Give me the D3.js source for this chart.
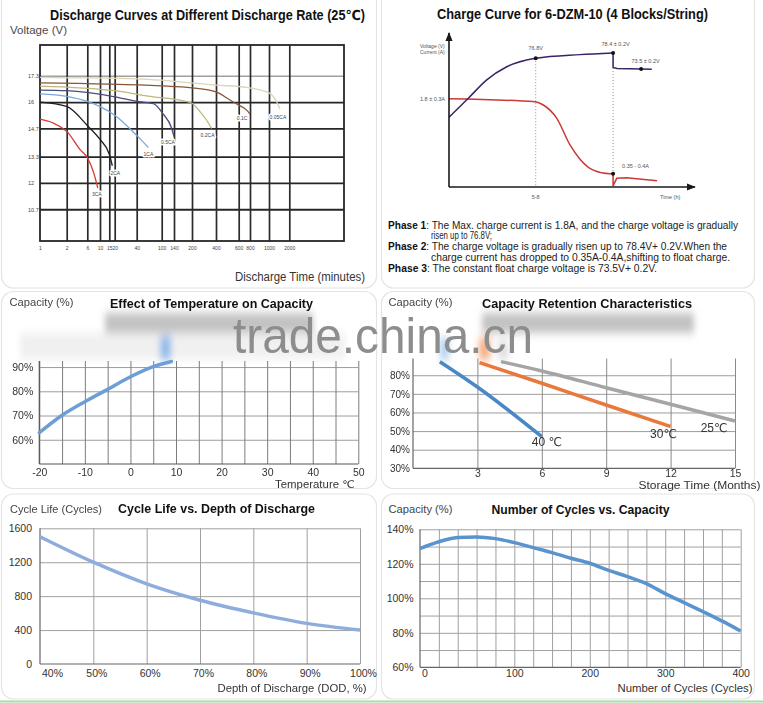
<!DOCTYPE html>
<html><head><meta charset="utf-8">
<script src="https://cdn.jsdelivr.net/npm/d3@7/dist/d3.min.js"></script>
<style>html,body{margin:0;padding:0;background:#fff}svg{display:block}</style>
</head><body><svg id="chart" width="763" height="703"></svg>
<script>
// ================= DATA =================
// Panel 1 – Discharge curves (time: minutes, voltage: V)
const dischargeTimeTicks = [1,2,6,10,15,20,40,100,140,200,400,600,800,1000,2000];
const dischargeVoltTicks = [10.7,12,13.3,14.7,16,17.3];
const curve3CA   = [[1,15.15],[2,14.55],[4.6,13.65],[6,13.25],[8.4,12.3],[9.3,11.75]];
const curve2CA   = [[1,16.0],[2,15.78],[6,14.84],[10,14.15],[15,13.42],[17.8,12.85]];
const curve1CA   = [[1,16.4],[2,16.28],[6,16.03],[10,15.77],[20,15.35],[40,14.35],[68,13.75]];
const curve05CA  = [[1,16.59],[2,16.56],[20,16.26],[40,16.03],[80,15.92],[105,15.4],[132,14.72],[140,14.3]];
const curve02CA  = [[1,16.79],[20,16.56],[80,16.26],[160,16.09],[200,15.94],[267,15.52],[322,15.1],[363,14.69]];
const curve01C   = [[1,16.95],[100,16.8],[200,16.7],[400,16.5],[523,16.1],[600,15.85],[741,15.6],[800,15.4]];
const curve005CA = [[1,17.22],[40,17.15],[100,17.08],[160,17.0],[400,16.84],[741,16.72],[1000,16.45],[1380,16.0],[1540,15.65]];
const rateNames  = ["3CA","2CA","1CA","0.5CA","0.2CA","0.1C","0.05CA"];

// Panel 2 – Charge curve (time: h, voltage: V, current: A)
const chargeVoltMain  = [[0,58.8],[1.45,64.6],[2.83,70.2],[4.33,74.2],[6.5,76.8],[9.8,77.9],[12.3,78.4]];
const chargeVoltFloat = [[12.3,78.4],[12.3,74.0],[12.6,73.7],[14.4,73.5],[15.2,73.4]];
const chargeCurrMain  = [[0,1.8],[6.45,1.74],[7.07,1.68],[8.07,1.43],[9.07,0.92],[9.82,0.65],[10.82,0.44],[12.07,0.37],[12.3,0.37]];
const chargeCurrFloat = [[12.3,0.37],[12.3,0.14],[12.57,0.285],[13.3,0.297],[15.6,0.24]];
const voltMarkers = [[6.5,76.8],[12.3,78.4],[14.4,73.5]];
const currMarkers = [[12.3,0.37]];
const phaseLines = [
  ["Phase 1", ": The Max. charge current is 1.8A, and the charge voltage is gradually"],
  ["", "risen up to 76.8V;"],
  ["Phase 2", ": The charge voltage is gradually risen up to 78.4V+ 0.2V.When the"],
  ["", "charge current has dropped to 0.35A-0.4A,shifting to float charge."],
  ["Phase 3", ": The constant float charge voltage is 73.5V+ 0.2V."]
];

// Panel 3 – Temperature vs capacity
const tempC        = [-20,-15,-10,-5,0,5,9];
const tempCapacity = [62.9,70.1,75.7,80.8,86.0,90.2,92.3];
const tempTicks    = [-20,-10,0,10,20,30,40,50];
const tempCapTicks = [60,70,80,90];

// Panel 4 – Capacity retention (months, %)
const months40 = [1.25,3,6];          const cap40 = [87.3,73.7,47];
const months30 = [3.1,6,9,12];        const cap30 = [86.8,75.7,64,52.5];
const months25 = [4.1,6,9,12,15];     const cap25 = [87.3,82.3,73.3,64.4,55.4];
const retentionLabels = ["40 ℃","30℃","25℃"];
const monthTicks = [3,6,9,12,15];
const retCapTicks = [30,40,50,60,70,80];

// Panel 5 – Cycle life vs DOD
const dodPct    = [40,50,60,70,80,90,100];
const cycleLife = [1500,1200,945,752,603,479,400];
const lifeTicks = [0,400,800,1200,1600];

// Panel 6 – Number of cycles vs capacity
const cycleCount    = [-25,0,25,50,75,100,125,150,175,200,225,250,275,300,325,350,375,400];
const cycleCapacity = [128.8,132.8,135.2,135.6,134.6,132.3,129.4,126.5,123.2,120.3,116.2,112.6,108.5,102.7,97.5,92.3,86.9,81];
const cycleTicks    = [0,100,200,300,400];
const cycCapTicks   = [60,80,100,120,140];

// ================= DRAWING =================
const FONT = '"Liberation Sans", Arial, "DejaVu Sans", sans-serif';
const svg = d3.select('#chart').attr('font-family', FONT);
const defs = svg.append('defs');
defs.append('filter').attr('id','blurV').attr('x','-30%').attr('y','-80%').attr('width','160%').attr('height','260%')
  .append('feGaussianBlur').attr('stdDeviation','3 5');
defs.append('marker').attr('id','arrow').attr('viewBox','0 0 10 8').attr('refX',9).attr('refY',4)
  .attr('markerWidth',9).attr('markerHeight',7.2).attr('markerUnits','userSpaceOnUse').attr('orient','auto')
  .append('path').attr('d','M0,0L10,4L0,8z').attr('fill','#1a1a1a');

function txt(g, x, y, s, o = {}) {
  const t = g.append('text').attr('x', x).attr('y', y).text(s)
    .attr('font-size', o.size || 10.5).attr('fill', o.fill || '#333')
    .attr('text-anchor', o.anchor || 'start').attr('font-weight', o.weight || 'normal');
  if (o.len) t.attr('textLength', o.len).attr('lengthAdjust', 'spacingAndGlyphs');
  if (o.halo) t.attr('stroke', '#fff').attr('stroke-width', o.halo).attr('paint-order', 'stroke').attr('stroke-linejoin', 'round');
  return t;
}
function axis(g, gen, tx, ty, o = {}) {
  const a = g.append('g').attr('transform', `translate(${tx},${ty})`).call(gen);
  a.attr('font-family', FONT).attr('font-size', o.fs || 10.5);
  a.select('.domain').remove();
  a.selectAll('.tick line').attr('stroke', o.stroke || '#9a9a9a').attr('stroke-width', o.sw || 1);
  a.selectAll('.tick text').attr('fill', o.fill || '#333');
  return a;
}
const pairs = (xs, ys) => xs.map((x, i) => [x, ys[i]]);
const plain = d => String(d);
const pct = d => d + '%';

// ---- panel frames ----
const frames = [[1.5,-12,375,300],[381.5,-12,373,300],[1.5,291.5,375,197],[381.5,291.5,373,197],[1.5,494,375,205],[381.5,494,373,205]];
svg.append('g').selectAll('rect').data(frames).join('rect')
  .attr('x', d => d[0]).attr('y', d => d[1]).attr('width', d => d[2]).attr('height', d => d[3])
  .attr('rx', 12).attr('fill', 'none').attr('stroke', '#e4e4e4').attr('stroke-width', 1.2);
svg.append('line').attr('x1',0).attr('x2',763).attr('y1',701.5).attr('y2',701.5).attr('stroke','#a8dca8').attr('stroke-width',2);

// ================= PANEL 1 =================
{
  const g = svg.append('g');
  const P = {l:40, r:344, t:45, b:241};
  const x = d3.scaleLinear().domain(dischargeTimeTicks)
    .range([40,66.7,87.3,100,109.3,114.7,136.7,161.7,174,192,216,238.7,250,269,289.3]);
  const y = d3.scaleLinear().domain([9.13,18.82]).range([P.b, P.t]);

  const hg = axis(g, d3.axisLeft(y).tickValues(dischargeVoltTicks).tickSize(-(P.r-P.l)).tickFormat(''), P.l, 0, {stroke:'#262626', sw:1.8});
  hg.selectAll('.tick line').filter(d => d === 17.3).attr('stroke', '#a0a0a0').attr('stroke-width', 1.4);
  axis(g, d3.axisBottom(x).tickValues(dischargeTimeTicks.slice(1)).tickSize(-(P.b-P.t)).tickFormat(''), 0, P.b, {stroke:'#2b2b2b', sw:1.7});
  g.append('rect').attr('x',P.l).attr('y',P.t).attr('width',P.r-P.l).attr('height',P.b-P.t)
    .attr('fill','none').attr('stroke','#262626').attr('stroke-width',1.8);

  axis(g, d3.axisBottom(x).tickValues(dischargeTimeTicks).tickSize(0).tickPadding(5).tickFormat(plain), 0, P.b, {fs:5, fill:'#444'});
  const yl = axis(g, d3.axisLeft(y).tickValues(dischargeVoltTicks).tickSize(0).tickFormat(plain), P.l, 0, {fs:5.5, fill:'#444'});
  yl.selectAll('.tick text').attr('text-anchor','start').attr('x', -12);

  const series = [curve3CA, curve2CA, curve1CA, curve05CA, curve02CA, curve01C, curve005CA];
  const colors = ['#db3a31','#1e1e1e','#7aa8d8','#4b4c7e','#bdb87c','#8b5636','#dcd5b6'];
  const lblDx = [-1,3,0,-6,-4,-8,-2], lblDy = [7.5,9,8.5,8,8.5,6,9.5];
  const line = d3.line().x(d => x(d[0])).y(d => y(d[1])).curve(d3.curveMonotoneX);
  series.forEach((s, i) => {
    g.append('path').attr('d', line(s)).attr('fill','none').attr('stroke', colors[i]).attr('stroke-width', 1.3);
  });
  series.forEach((s, i) => {
    const e = s[s.length-1];
    txt(g, x(e[0]) + lblDx[i], y(e[1]) + lblDy[i], rateNames[i], {size:5, anchor:'middle', fill:'#444', halo:3});
  });

  txt(g, 50, 20, 'Discharge Curves at Different Discharge Rate (25℃)', {size:14, weight:'bold', fill:'#111', len:315});
  txt(g, 10, 34, 'Voltage (V)', {size:11, fill:'#4a4a4a', len:57});
  txt(g, 365, 281, 'Discharge Time (minutes)', {size:12, fill:'#333', anchor:'end', len:130});
}

// ================= PANEL 2 =================
{
  const g = svg.append('g');
  const P = {l:449, r:695, t:33, b:187};
  const x = d3.scaleLinear().domain([0,18.44]).range([P.l, P.r]);
  const yV = d3.scaleLinear().domain([37.5,84.5]).range([P.b, P.t]);
  const yA = d3.scaleLinear().domain([0.12,3.05]).range([P.b, P.t]);

  g.append('line').attr('x1',x(voltMarkers[0][0])).attr('x2',x(voltMarkers[0][0])).attr('y1',yV(voltMarkers[0][1])).attr('y2',P.b)
    .attr('stroke','#888').attr('stroke-width',0.9).attr('stroke-dasharray','1,2');
  g.append('line').attr('x1',x(voltMarkers[1][0])).attr('x2',x(voltMarkers[1][0])).attr('y1',yV(voltMarkers[1][1])).attr('y2',P.b)
    .attr('stroke','#888').attr('stroke-width',0.9).attr('stroke-dasharray','1,2');

  const lv = d3.line().x(d => x(d[0])).y(d => yV(d[1]));
  const la = d3.line().x(d => x(d[0])).y(d => yA(d[1]));
  g.append('path').attr('d', la.curve(d3.curveMonotoneX)(chargeCurrMain)).attr('fill','none').attr('stroke','#c93a34').attr('stroke-width',1.5);
  g.append('path').attr('d', la.curve(d3.curveLinear)(chargeCurrFloat)).attr('fill','none').attr('stroke','#c93a34').attr('stroke-width',1.5);
  g.append('path').attr('d', lv.curve(d3.curveMonotoneX)(chargeVoltMain)).attr('fill','none').attr('stroke','#3a2366').attr('stroke-width',1.5);
  g.append('path').attr('d', lv.curve(d3.curveLinear)(chargeVoltFloat)).attr('fill','none').attr('stroke','#3a2366').attr('stroke-width',1.5);

  g.selectAll(null).data(voltMarkers).join('circle').attr('cx', d => x(d[0])).attr('cy', d => yV(d[1])).attr('r', 2).attr('fill', '#111');
  g.selectAll(null).data(currMarkers).join('circle').attr('cx', d => x(d[0])).attr('cy', d => yA(d[1])).attr('r', 2).attr('fill', '#111');

  g.append('line').attr('x1',P.l).attr('x2',P.l).attr('y1',P.b).attr('y2',P.t).attr('stroke','#1a1a1a').attr('stroke-width',1.6).attr('marker-end','url(#arrow)');
  g.append('line').attr('x1',P.l).attr('x2',P.r).attr('y1',P.b).attr('y2',P.b).attr('stroke','#1a1a1a').attr('stroke-width',1.6).attr('marker-end','url(#arrow)');

  const s = {size:5.5, fill:'#555'};
  txt(g, 420, 47.5, 'Voltage (V)', {...s, size:5});
  txt(g, 420, 54, 'Current (A)', {...s, size:5});
  txt(g, x(voltMarkers[0][0]), yV(voltMarkers[0][1]) - 8, '76.8V', {...s, anchor:'middle'});
  txt(g, x(voltMarkers[1][0]) + 2.5, yV(voltMarkers[1][1]) - 6.5, '78.4 ± 0.2V', {...s, anchor:'middle'});
  txt(g, x(voltMarkers[2][0]) + 4.5, yV(voltMarkers[2][1]) - 6.5, '73.5 ± 0.2V', {...s, anchor:'middle'});
  txt(g, P.l - 4, yA(chargeCurrMain[0][1]) + 2, '1.8 ± 0.3A', {...s, anchor:'end'});
  txt(g, x(currMarkers[0][0]) + 9, yA(currMarkers[0][1]) - 5.5, '0.35 - 0.4A', s);
  txt(g, x(voltMarkers[0][0]), P.b + 11.5, '5-8', {...s, anchor:'middle'});
  txt(g, 660, P.b + 11.5, 'Time (h)', s);

  txt(g, 437, 19, 'Charge Curve for 6-DZM-10 (4 Blocks/String)', {size:14, weight:'bold', fill:'#111', len:271});

  const baselines = [228.5, 239, 250, 260.5, 271.5];
  const lens = [350, 61, 339, 299, 269];
  phaseLines.forEach((pl, i) => {
    const t = g.append('text').attr('x', pl[0] ? 388 : 431).attr('y', baselines[i]).attr('font-size', 10).attr('fill', '#222')
      .attr('textLength', lens[i]).attr('lengthAdjust', 'spacingAndGlyphs');
    if (pl[0]) t.append('tspan').attr('font-weight','bold').attr('fill','#111').text(pl[0]);
    t.append('tspan').text(pl[1]);
  });
}

// ---- watermark blur bands (behind panels 3/4) ----
{
  const g = svg.append('g').attr('filter','url(#blurV)');
  g.append('rect').attr('x',20).attr('y',333).attr('width',325).attr('height',26).attr('fill','#e6e6e6').attr('opacity',0.6);
  g.append('rect').attr('x',105).attr('y',313).attr('width',208).attr('height',20).attr('fill','#a8a8a8').attr('opacity',0.7);
  g.append('rect').attr('x',482).attr('y',313).attr('width',212).attr('height',20).attr('fill','#a8a8a8').attr('opacity',0.7);
  g.append('rect').attr('x',160).attr('y',336).attr('width',11).attr('height',24).attr('fill','#79aee8').attr('opacity',0.8);
  g.append('rect').attr('x',440).attr('y',338).attr('width',9).attr('height',22).attr('fill','#8fbde9').attr('opacity',0.7);
  g.append('rect').attr('x',479).attr('y',338).attr('width',11).attr('height',22).attr('fill','#f29a62').attr('opacity',0.8);
  g.append('rect').attr('x',498).attr('y',340).attr('width',10).attr('height',20).attr('fill','#c8c8c8').attr('opacity',0.6);
}

// ================= PANEL 3 =================
{
  const g = svg.append('g');
  const P = {l:39.3, r:358.3, t:361, b:464};
  const x = d3.scaleLinear().domain([-20,50]).range([P.l, P.r]);
  const y = d3.scaleLinear().domain([50,92.5]).range([P.b, P.t]);
  axis(g, d3.axisLeft(y).tickValues(tempCapTicks).tickSize(-(P.r-P.l)).tickFormat(''), P.l, 0, {stroke:'#9c9c9c'});
  axis(g, d3.axisBottom(x).tickValues(d3.range(-20,51,5)).tickSize(-(P.b-P.t)).tickFormat(''), 0, P.b, {stroke:'#7c7c7c'});
  g.append('line').attr('x1',P.l).attr('x2',P.l).attr('y1',P.t).attr('y2',P.b).attr('stroke','#555').attr('stroke-width',1.2);
  g.append('line').attr('x1',P.l).attr('x2',P.r).attr('y1',P.b).attr('y2',P.b).attr('stroke','#555').attr('stroke-width',1.2);
  axis(g, d3.axisBottom(x).tickValues(tempTicks).tickSize(0).tickPadding(5).tickFormat(plain), 0, P.b);
  axis(g, d3.axisLeft(y).tickValues(tempCapTicks).tickSize(0).tickPadding(6).tickFormat(pct), P.l, 0);
  g.append('path').attr('d', d3.line().x(d => x(d[0])).y(d => y(d[1])).curve(d3.curveMonotoneX)(pairs(tempC, tempCapacity)))
    .attr('fill','none').attr('stroke','#6d9fd6').attr('stroke-width',3.5).attr('stroke-linecap','round');
  txt(g, 110, 308, 'Effect of Temperature on Capacity', {size:12.5, weight:'bold', fill:'#111', len:203});
  txt(g, 9.5, 306, 'Capacity (%)', {size:10.5, fill:'#444', len:64});
  txt(g, 355, 488, 'Temperature ℃', {size:10.5, fill:'#333', anchor:'end', len:80});
}

// ================= PANEL 4 =================
{
  const g = svg.append('g');
  const P = {l:413, r:735, t:358.5, b:468.3};
  const x = d3.scaleLinear().domain([0,15]).range([P.l, P.r]);
  const y = d3.scaleLinear().domain([30,89]).range([P.b, P.t]);
  axis(g, d3.axisLeft(y).tickValues(retCapTicks.slice(1)).tickSize(-(P.r-P.l)).tickFormat(''), P.l, 0, {stroke:'#9c9c9c'});
  axis(g, d3.axisBottom(x).tickValues(monthTicks).tickSize(-(P.b-P.t)).tickFormat(''), 0, P.b, {stroke:'#8a8a8a'});
  g.append('line').attr('x1',P.l).attr('x2',P.l).attr('y1',P.t).attr('y2',P.b).attr('stroke','#666').attr('stroke-width',1.2);
  g.append('line').attr('x1',P.l).attr('x2',P.r).attr('y1',P.b).attr('y2',P.b).attr('stroke','#666').attr('stroke-width',1.2);
  axis(g, d3.axisBottom(x).tickValues(monthTicks).tickSize(0).tickPadding(1.5).tickFormat(plain), 0, P.b);
  axis(g, d3.axisLeft(y).tickValues(retCapTicks).tickSize(0).tickPadding(3).tickFormat(pct), P.l, 0, {fs:10});
  const ln = d3.line().x(d => x(d[0])).y(d => y(d[1])).curve(d3.curveMonotoneX);
  const ser = [[months25, cap25, '#a5a5a5'], [months30, cap30, '#e8783b'], [months40, cap40, '#4a87c6']];
  ser.forEach(s => g.append('path').attr('d', ln(pairs(s[0], s[1]))).attr('fill','none').attr('stroke', s[2]).attr('stroke-width',3.5));
  const ends = [[months40, cap40, -10, 9.5], [months30, cap30, -20.5, 12], [months25, cap25, -34.3, 10.5]];
  ends.forEach((e, i) => {
    const n = e[0].length - 1;
    txt(g, x(e[0][n]) + e[2], y(e[1][n]) + e[3], retentionLabels[i], {size:12, fill:'#333'});
  });
  txt(g, 482, 308, 'Capacity Retention Characteristics', {size:12.5, weight:'bold', fill:'#111', len:210});
  txt(g, 388.5, 306, 'Capacity (%)', {size:10.5, fill:'#444', len:64});
  txt(g, 638.5, 489, 'Storage Time (Months)', {size:10, fill:'#333', len:122});
}

// ---- watermark ----
svg.append('text').attr('x', 233).attr('y', 353).text('trade.china.cn')
  .attr('font-family','"Liberation Sans", Arial, sans-serif').attr('font-size', 50).attr('fill', '#8d8d8d')
  .attr('textLength', 300).attr('lengthAdjust','spacingAndGlyphs');

// ================= PANEL 5 =================
{
  const g = svg.append('g');
  const P = {l:40, r:360, t:528.3, b:664};
  const x = d3.scaleLinear().domain([40,100]).range([P.l, P.r]);
  const y = d3.scaleLinear().domain([0,1600]).range([P.b, P.t]);
  axis(g, d3.axisLeft(y).tickValues(lifeTicks.slice(1)).tickSize(-(P.r-P.l)).tickFormat(''), P.l, 0, {stroke:'#a0a0a0'});
  axis(g, d3.axisBottom(x).tickValues(dodPct.slice(1)).tickSize(-(P.b-P.t)).tickFormat(''), 0, P.b, {stroke:'#a0a0a0'});
  g.append('line').attr('x1',P.l).attr('x2',P.l).attr('y1',P.t).attr('y2',P.b).attr('stroke','#666').attr('stroke-width',1.2);
  g.append('line').attr('x1',P.l).attr('x2',P.r).attr('y1',P.b).attr('y2',P.b).attr('stroke','#666').attr('stroke-width',1.2);
  const xl = axis(g, d3.axisBottom(x).tickValues(dodPct).tickSize(0).tickPadding(6).tickFormat(pct), 0, P.b);
  xl.selectAll('.tick text').attr('dx', 3);
  xl.selectAll('.tick text').filter(d => d === 40).attr('text-anchor','start').attr('dx', 1.5);
  axis(g, d3.axisLeft(y).tickValues(lifeTicks).tickSize(0).tickPadding(8).tickFormat(plain), P.l, 0);
  g.append('path').attr('d', d3.line().x(d => x(d[0])).y(d => y(d[1])).curve(d3.curveMonotoneX)(pairs(dodPct, cycleLife)))
    .attr('fill','none').attr('stroke','#8eaddd').attr('stroke-width',3.5);
  txt(g, 118, 513, 'Cycle Life vs. Depth of Discharge', {size:12.5, weight:'bold', fill:'#111', len:197});
  txt(g, 10, 513, 'Cycle Life (Cycles)', {size:10.5, fill:'#444', len:92});
  txt(g, 366.5, 692, 'Depth of Discharge (DOD, %)', {size:10.5, fill:'#333', anchor:'end', len:149});
}

// ================= PANEL 6 =================
{
  const g = svg.append('g');
  const P = {l:420, r:740.7, t:529.3, b:667.3};
  const x = d3.scaleLinear().domain([-25,400]).range([P.l, P.r]);
  const y = d3.scaleLinear().domain([60,140]).range([P.b, P.t]);
  axis(g, d3.axisLeft(y).tickValues(d3.range(70,141,10)).tickSize(-(P.r-P.l)).tickFormat(''), P.l, 0, {stroke:'#a0a0a0'});
  axis(g, d3.axisBottom(x).tickValues(d3.range(0,401,25)).tickSize(-(P.b-P.t)).tickFormat(''), 0, P.b, {stroke:'#a0a0a0'});
  g.append('line').attr('x1',P.l).attr('x2',P.l).attr('y1',P.t).attr('y2',P.b).attr('stroke','#666').attr('stroke-width',1.2);
  g.append('line').attr('x1',P.l).attr('x2',P.r).attr('y1',P.b).attr('y2',P.b).attr('stroke','#666').attr('stroke-width',1.2);
  const xl = axis(g, d3.axisBottom(x).tickValues(cycleTicks).tickSize(0).tickPadding(2).tickFormat(plain), 0, P.b);
  xl.selectAll('.tick text').filter(d => d === 0).attr('dx', -14.5);
  axis(g, d3.axisLeft(y).tickValues(cycCapTicks).tickSize(0).tickPadding(6.5).tickFormat(pct), P.l, 0);
  g.append('path').attr('d', d3.line().x(d => x(d[0])).y(d => y(d[1])).curve(d3.curveMonotoneX)(pairs(cycleCount, cycleCapacity)))
    .attr('fill','none').attr('stroke','#5a94cf').attr('stroke-width',3.5);
  txt(g, 491.5, 513.5, 'Number of Cycles vs. Capacity', {size:12.5, weight:'bold', fill:'#111', len:178});
  txt(g, 388.5, 513, 'Capacity (%)', {size:10.5, fill:'#444', len:64});
  txt(g, 752.5, 692, 'Number of Cycles (Cycles)', {size:10.5, fill:'#333', anchor:'end', len:135});
}
</script></body></html>
